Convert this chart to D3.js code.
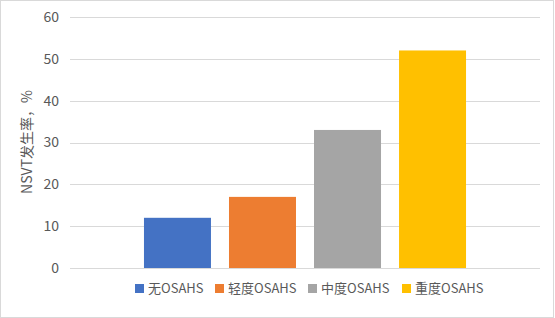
<!DOCTYPE html>
<html>
<head>
<meta charset="utf-8">
<script src="https://cdn.jsdelivr.net/npm/d3@7"></script>
<style>
  body { margin: 0; background: #fff; }
  text { font-family: "Noto Sans CJK SC", "Noto Sans", sans-serif; fill: #595959; }
</style>
</head>
<body>
<div class="chart"></div>
<script>
var groups = ["无OSAHS", "轻度OSAHS", "中度OSAHS", "重度OSAHS"];
var rates = [12, 17, 33, 52];
var colors = ["#4472C4", "#ED7D31", "#A5A5A5", "#FFC000"];
var yTicks = [0, 10, 20, 30, 40, 50, 60];

var width = 555, height = 318;
var plot = { left: 70, right: 540, top: 17, bottom: 268 };

var svg = d3.select(".chart").append("svg")
  .attr("width", width)
  .attr("height", height);

// outer border
svg.append("rect")
  .attr("x", 0.5).attr("y", 0.5)
  .attr("width", width - 2).attr("height", height - 1)
  .attr("fill", "#fff")
  .attr("stroke", "#d9d9d9");

var y = d3.scaleLinear().domain([0, 60]).range([plot.bottom, plot.top]);

var x = d3.scaleBand()
  .domain(groups)
  .range([plot.left, plot.right])
  .paddingInner(0.212)
  .paddingOuter(0.87);

// gridlines
svg.append("g").selectAll("line")
  .data(yTicks)
  .enter().append("line")
  .attr("x1", plot.left).attr("x2", plot.right)
  .attr("y1", function (d) { return Math.round(y(d)) + 0.5; })
  .attr("y2", function (d) { return Math.round(y(d)) + 0.5; })
  .attr("stroke", "#d9d9d9")
  .attr("stroke-width", 1);

// y tick labels
var yAxis = d3.axisLeft(y).tickValues(yTicks).tickSize(0).tickPadding(11);
var ya = svg.append("g")
  .attr("transform", "translate(" + plot.left + ",0)")
  .call(yAxis);
ya.select(".domain").remove();
ya.selectAll("text")
  .style("font-size", "14px")
  .attr("fill", "#595959");

// bars
svg.append("g").selectAll("rect")
  .data(groups)
  .enter().append("rect")
  .attr("x", function (d) { return x(d); })
  .attr("width", x.bandwidth())
  .attr("y", function (d, i) { return y(rates[i]); })
  .attr("height", function (d, i) { return y(0) - y(rates[i]); })
  .attr("fill", function (d, i) { return colors[i]; });

// y axis title
svg.append("text")
  .attr("transform", "translate(32,142) rotate(-90)")
  .attr("text-anchor", "middle")
  .style("font-size", "14px")
  .text("NSVT发生率，%");

// legend
var legendX = [135, 215, 308, 402];
var legend = svg.append("g").selectAll("g")
  .data(groups)
  .enter().append("g")
  .attr("transform", function (d, i) { return "translate(" + legendX[i] + ",284)"; });

legend.append("rect")
  .attr("width", 9).attr("height", 9)
  .attr("fill", function (d, i) { return colors[i]; });

legend.append("text")
  .attr("x", 13)
  .attr("y", 9)
  .style("font-size", "13px")
  .text(function (d) { return d; });
</script>
</body>
</html>
